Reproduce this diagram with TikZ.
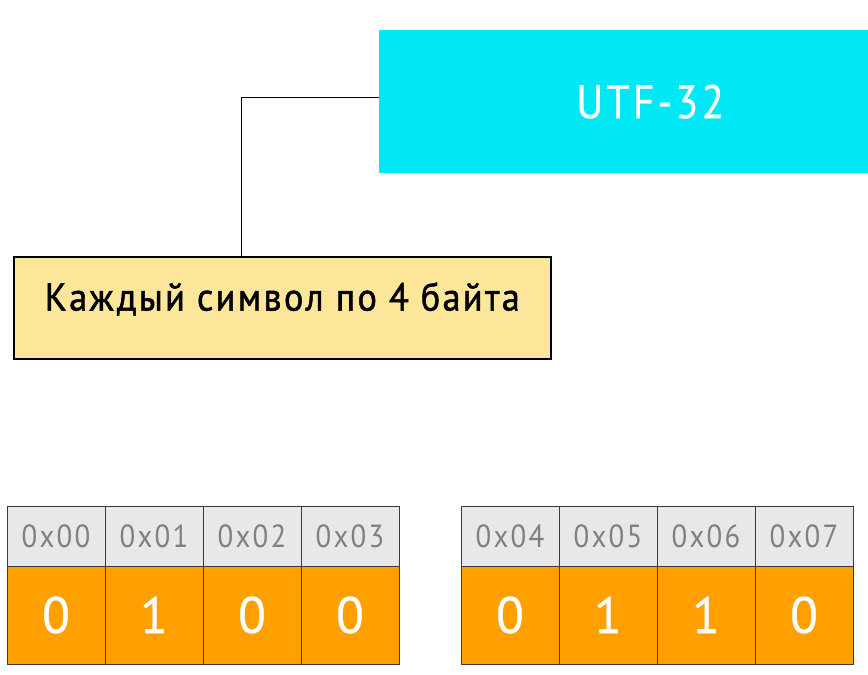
\documentclass[tikz,border=0pt]{standalone}
\usepackage{fontspec}
\setmainfont{PT Sans}[LetterSpace=6]
\newfontfamily\utffont{PT Sans}[LetterSpace=7, FakeStretch=0.88, FakeBold=0.6]
\newfontfamily\notefont{PT Sans}[LetterSpace=6, FakeStretch=0.93, FakeBold=1.3]
\newfontfamily\hdrfont{PT Sans}[LetterSpace=7, FakeStretch=0.9]
\newfontfamily\valfont{PT Sans}[FakeBold=0.6]
\definecolor{utfcyan}{HTML}{00E8F4}
\definecolor{noteyellow}{HTML}{FCE699}
\definecolor{valorange}{HTML}{FF9F00}
\definecolor{hdrgray}{HTML}{E8E8E8}
\definecolor{hdrtext}{HTML}{808080}
\definecolor{cellline}{HTML}{3A3A3A}
\begin{document}
\begin{tikzpicture}[x=1pt,y=-1pt,
  hdrcell/.style={draw=cellline, line width=0.9pt, fill=hdrgray, minimum width=98pt, minimum height=60pt, inner sep=0pt, text=hdrtext, font=\hdrfont\fontsize{32}{34}\selectfont},
  valcell/.style={draw=cellline, line width=0.9pt, fill=valorange, minimum width=98pt, minimum height=98pt, inner sep=0pt, text=white, font=\valfont\fontsize{51}{53}\selectfont},
  link/.style={draw=black, line width=0.9pt}]
\useasboundingbox (0,0) rectangle (868,675);
\clip (0,0) rectangle (868,675);
\fill[white] (0,0) rectangle (868,675);
\node[fill=utfcyan, minimum width=542pt, minimum height=143pt, inner sep=0pt, anchor=north west, text=white, font=\utffont\fontsize{47}{49}\selectfont] (utf) at (379,30) {UTF-32};
\node[draw=black, line width=1.6pt, fill=noteyellow, minimum width=537pt, minimum height=102pt, inner sep=0pt, anchor=north west, font=\notefont\fontsize{39}{41}\selectfont, text depth=0.2em, text height=0.75em] (note) at (13,256) {Каждый символ по 4 байта};
\draw[link] ([yshift=4.5pt]utf.west) -| ([xshift=-41pt]note.north);
\foreach \i/\v in {0/0,1/1,2/0,3/0} {
  \node[hdrcell] (ha\i) at ({56+98*\i},536) {0x0\i};
  \node[valcell] (va\i) at ({56+98*\i},615) {\v};
}
\foreach \i/\n/\v in {0/4/0,1/5/1,2/6/1,3/7/0} {
  \node[hdrcell] (hb\i) at ({510+98*\i},536) {0x0\n};
  \node[valcell] (vb\i) at ({510+98*\i},615) {\v};
}
\end{tikzpicture}
\end{document}
